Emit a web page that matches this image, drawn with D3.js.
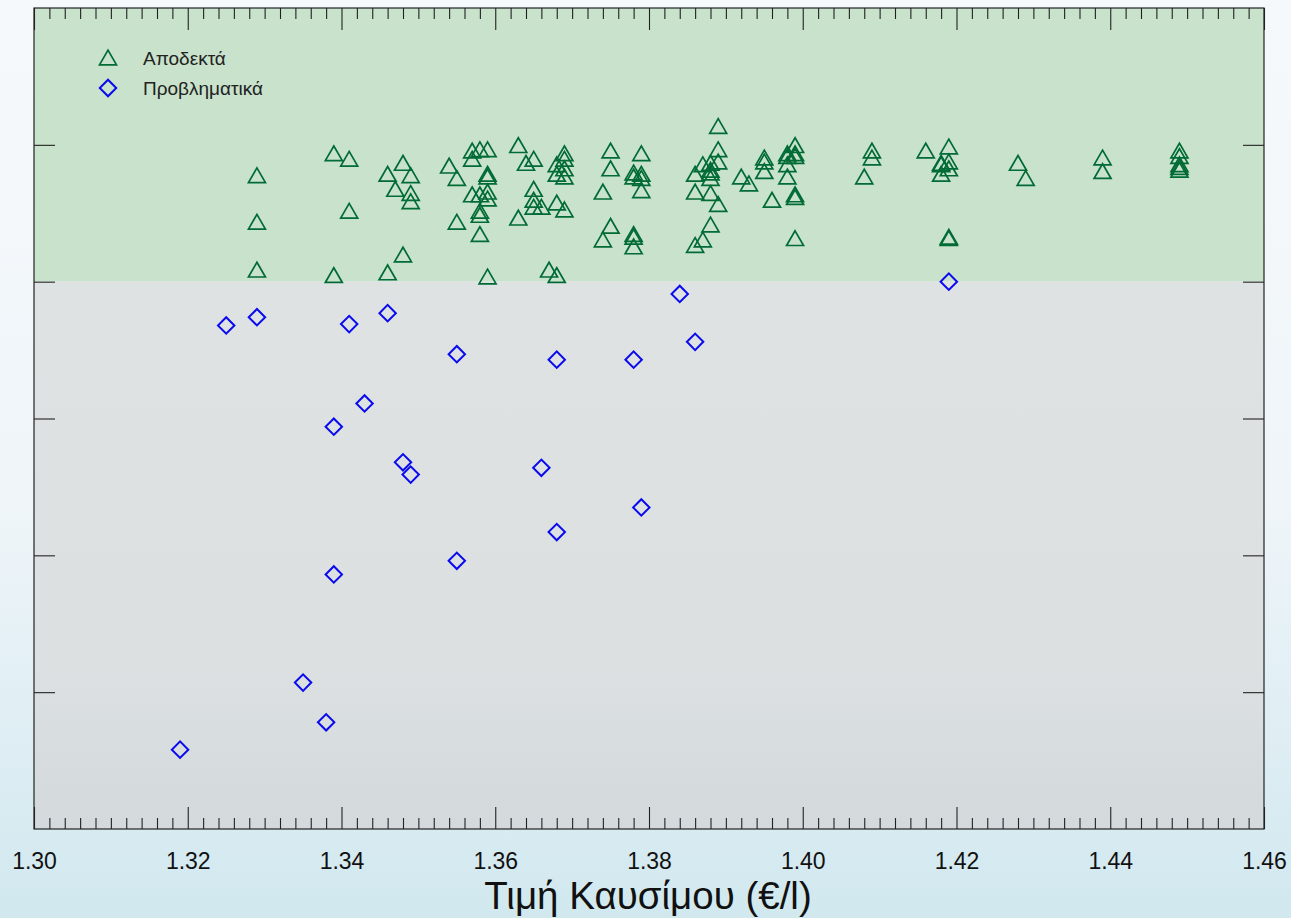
<!DOCTYPE html>
<html>
<head>
<meta charset="utf-8">
<script src="https://cdn.jsdelivr.net/npm/d3@7"></script>
<style>
  html, body { margin: 0; padding: 0; overflow: hidden; }
  body { font-family: "Liberation Sans", Arial, sans-serif; }
</style>
</head>
<body>
<script>
// ---- data ----
var xTicks = [1.30, 1.32, 1.34, 1.36, 1.38, 1.40, 1.42, 1.44, 1.46];
var yTicks = [1, 2, 3, 4, 5];
var threshold = 4;
var legendLabels = ["Αποδεκτά", "Προβληματικά"];
var xTitle = "Τιμή Καυσίμου (€/l)";

var acceptedPrice = [
  1.329, 1.329, 1.329, 1.339, 1.339, 1.341, 1.341, 1.346, 1.346, 1.347,
  1.348, 1.348, 1.349, 1.349, 1.349, 1.354, 1.355, 1.355, 1.357, 1.357,
  1.357, 1.358, 1.358, 1.358, 1.358, 1.358, 1.359, 1.359, 1.359, 1.359,
  1.359, 1.359, 1.363, 1.363, 1.364, 1.365, 1.365, 1.365, 1.365, 1.366,
  1.367, 1.368, 1.368, 1.368, 1.368, 1.369, 1.369, 1.369, 1.369, 1.369,
  1.374, 1.374, 1.375, 1.375, 1.375, 1.378, 1.378, 1.378, 1.378, 1.378,
  1.379, 1.379, 1.379, 1.379, 1.386, 1.386, 1.386, 1.387, 1.387, 1.388,
  1.388, 1.388, 1.388, 1.388, 1.388, 1.389, 1.389, 1.389, 1.389, 1.392,
  1.393, 1.395, 1.395, 1.395, 1.396, 1.398, 1.398, 1.398, 1.398, 1.399,
  1.399, 1.399, 1.399, 1.399, 1.399, 1.408, 1.409, 1.409, 1.416, 1.418,
  1.418, 1.418, 1.419, 1.419, 1.419, 1.419, 1.419, 1.428, 1.429, 1.439,
  1.439, 1.449, 1.449, 1.449, 1.449, 1.449
];
var acceptedScore = [
  4.76, 4.42, 4.07, 4.92, 4.03, 4.88, 4.50, 4.77, 4.05, 4.66,
  4.85, 4.18, 4.76, 4.63, 4.57, 4.83, 4.74, 4.42, 4.94, 4.88,
  4.62, 4.95, 4.62, 4.50, 4.47, 4.33, 4.95, 4.77, 4.75, 4.64,
  4.59, 4.02, 4.98, 4.45, 4.85, 4.88, 4.66, 4.58, 4.53, 4.53,
  4.07, 4.84, 4.77, 4.56, 4.03, 4.92, 4.88, 4.81, 4.75, 4.51,
  4.64, 4.29, 4.94, 4.81, 4.39, 4.78, 4.75, 4.33, 4.31, 4.24,
  4.92, 4.77, 4.74, 4.65, 4.77, 4.64, 4.25, 4.84, 4.29, 4.85,
  4.80, 4.78, 4.74, 4.63, 4.40, 5.12, 4.95, 4.86, 4.55, 4.75,
  4.70, 4.89, 4.86, 4.79, 4.58, 4.92, 4.90, 4.84, 4.75, 4.98,
  4.92, 4.90, 4.62, 4.60, 4.30, 4.75, 4.94, 4.89, 4.94, 4.85,
  4.84, 4.77, 4.97, 4.86, 4.81, 4.31, 4.30, 4.85, 4.74, 4.89,
  4.79, 4.94, 4.90, 4.84, 4.82, 4.80
];

var problemPrice = [
  1.319, 1.325, 1.329, 1.341, 1.346, 1.355, 1.368, 1.378, 1.384, 1.386,
  1.419, 1.343, 1.339, 1.348, 1.349, 1.366, 1.379, 1.368, 1.355, 1.339,
  1.335, 1.338
];
var problemScore = [
  0.58, 3.68, 3.74, 3.69, 3.77, 3.47, 3.43, 3.43, 3.91, 3.56,
  4.00, 3.11, 2.94, 2.68, 2.59, 2.64, 2.35, 2.17, 1.96, 1.86,
  1.07, 0.78
];

// ---- layout ----
var W = 1291, H = 918;
var plotL = 34, plotR = 1264, plotT = 8, plotB = 829;

var svg = d3.select("body").append("svg")
    .attr("width", W)
    .attr("height", H);

var defs = svg.append("defs");

var pageGrad = defs.append("linearGradient")
    .attr("id", "pageGrad").attr("x1", 0).attr("y1", 0).attr("x2", 0).attr("y2", 1);
pageGrad.append("stop").attr("offset", "0%").attr("stop-color", "#f6f9fc");
pageGrad.append("stop").attr("offset", "55%").attr("stop-color", "#eff5f9");
pageGrad.append("stop").attr("offset", "100%").attr("stop-color", "#d1e8ef");

var grayGrad = defs.append("linearGradient")
    .attr("id", "grayGrad").attr("x1", 0).attr("y1", 0).attr("x2", 0).attr("y2", 1);
grayGrad.append("stop").attr("offset", "0%").attr("stop-color", "#dfe2e3");
grayGrad.append("stop").attr("offset", "70%").attr("stop-color", "#dce0e1");
grayGrad.append("stop").attr("offset", "100%").attr("stop-color", "#d3d9dc");

svg.append("rect")
    .attr("width", W).attr("height", H)
    .attr("fill", "url(#pageGrad)");

var x = d3.scaleLinear()
    .domain([1.30, 1.46])
    .range([plotL, plotR]);

var y = d3.scaleLinear()
    .domain([0, 6])
    .range([plotB, plotT]);

// background zones
svg.append("rect")
    .attr("x", x(1.30)).attr("y", y(6))
    .attr("width", x(1.46) - x(1.30)).attr("height", y(threshold) - y(6))
    .attr("fill", "#c8e2cb");
svg.append("rect")
    .attr("x", x(1.30)).attr("y", y(threshold))
    .attr("width", x(1.46) - x(1.30)).attr("height", y(0) - y(threshold))
    .attr("fill", "url(#grayGrad)");

// minor ticks every 0.002
var minorTicks = d3.range(0, 81).map(i => +(1.30 + i * 0.002).toFixed(3))
    .filter(v => xTicks.indexOf(v) < 0);

function styleAxis(g) {
    g.select(".domain").remove();
    g.selectAll(".tick line").attr("stroke", "#222").attr("stroke-width", 1.1);
}

svg.append("g")
    .attr("transform", `translate(0,${plotB})`)
    .call(d3.axisBottom(x).tickValues(minorTicks).tickSize(-11).tickFormat(""))
    .call(styleAxis);
svg.append("g")
    .attr("transform", `translate(0,${plotT})`)
    .call(d3.axisTop(x).tickValues(minorTicks).tickSize(-11).tickFormat(""))
    .call(styleAxis);

svg.append("g")
    .attr("transform", `translate(0,${plotB})`)
    .call(d3.axisBottom(x).tickValues(xTicks).tickSize(-22).tickPadding(24)
        .tickFormat(d3.format(".2f")))
    .call(styleAxis)
    .call(g => g.selectAll(".tick text")
        .attr("fill", "#111")
        .attr("font-size", "23px")
        .attr("font-family", "Liberation Sans, Arial, sans-serif"));
svg.append("g")
    .attr("transform", `translate(0,${plotT})`)
    .call(d3.axisTop(x).tickValues(xTicks).tickSize(-22).tickFormat(""))
    .call(styleAxis);

svg.append("g")
    .attr("transform", `translate(${plotL},0)`)
    .call(d3.axisLeft(y).tickValues(yTicks).tickSize(-21).tickFormat(""))
    .call(styleAxis);
svg.append("g")
    .attr("transform", `translate(${plotR},0)`)
    .call(d3.axisRight(y).tickValues(yTicks).tickSize(-21).tickFormat(""))
    .call(styleAxis);

// frame
svg.append("rect")
    .attr("x", x(1.30)).attr("y", y(6))
    .attr("width", x(1.46) - x(1.30)).attr("height", y(0) - y(6))
    .attr("fill", "none")
    .attr("stroke", "#222")
    .attr("stroke-width", 1.2);

// axis title
svg.append("text")
    .attr("x", 648)
    .attr("y", 909)
    .attr("text-anchor", "middle")
    .attr("font-size", "38.5px")
    .attr("fill", "#111")
    .text(xTitle);

// markers
var triangle = d3.symbol().type(d3.symbolTriangle).size(125);
var diamond = d3.symbol().type(d3.symbolSquare).size(135);
var green = "#006b35", blue = "#0a0aee";

svg.append("g")
    .selectAll("path")
    .data(acceptedPrice.map((p, i) => [p, acceptedScore[i]]))
    .join("path")
    .attr("d", triangle)
    .attr("transform", d => `translate(${x(d[0])},${y(d[1])})`)
    .attr("fill", "none")
    .attr("stroke", green)
    .attr("stroke-width", 1.7);

svg.append("g")
    .selectAll("path")
    .data(problemPrice.map((p, i) => [p, problemScore[i]]))
    .join("path")
    .attr("d", diamond)
    .attr("transform", d => `translate(${x(d[0])},${y(d[1])}) rotate(45)`)
    .attr("fill", "none")
    .attr("stroke", blue)
    .attr("stroke-width", 2);

// legend
var legend = svg.append("g").attr("transform", "translate(108,58)");
legend.append("path")
    .attr("d", triangle)
    .attr("transform", "translate(0,2)")
    .attr("fill", "none").attr("stroke", green).attr("stroke-width", 1.7);
legend.append("path")
    .attr("d", diamond)
    .attr("transform", "translate(0,30) rotate(45)")
    .attr("fill", "none").attr("stroke", blue).attr("stroke-width", 2);
legend.selectAll("text")
    .data(legendLabels)
    .join("text")
    .attr("x", 35)
    .attr("y", (d, i) => i * 30 + 7)
    .attr("font-size", "19px")
    .attr("fill", "#222")
    .text(d => d);
</script>
</body>
</html>
